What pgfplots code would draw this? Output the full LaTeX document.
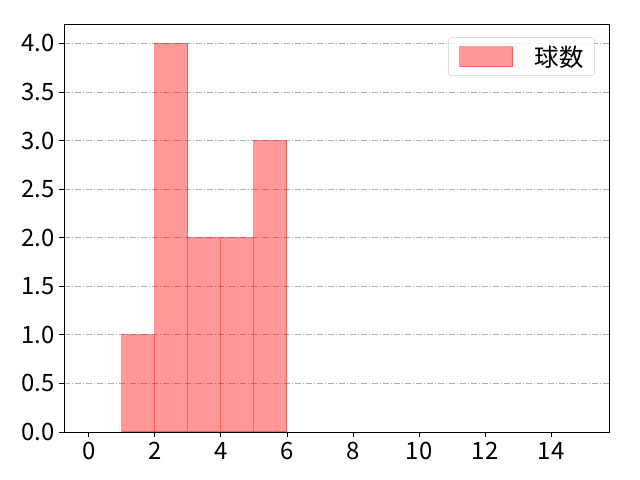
\documentclass[border=0pt]{standalone}
\usepackage{fontspec}
\setmainfont{Noto Sans CJK JP}
\usepackage{pgfplots}
\pgfplotsset{compat=1.18}
\begin{document}
\begin{tikzpicture}[x=1bp,y=1bp]
\path[use as bounding box] (0,0) rectangle (640,480);
\begin{axis}[
  at={(64bp,48bp)}, anchor=south west,
  width=545bp, height=408bp, scale only axis,
  xmin=-0.75, xmax=15.75, ymin=0, ymax=4.2,
  xtick={0,2,...,14},
  ytick={0,0.5,...,4.0},
  yticklabel style={xshift=-1bp, /pgf/number format/.cd,fixed,fixed zerofill,precision=1},
  /pgf/number format/assume math mode=true,
  tick label style={font=\fontsize{24}{28}\selectfont},
  xticklabel style={yshift=-2bp},
  tick align=outside, tick pos=left,
  major tick length=5bp,
  axis line style={line width=0.9bp},
  every tick/.style={line width=0.9bp, black},
  ymajorgrids,
  grid style={dash pattern=on 6bp off 2bp on 1bp off 2bp, color={rgb,255:red,176;green,176;blue,176}, line width=0.9bp},
  legend style={at={(0.974,0.967)}, anchor=north east, draw={rgb,255:red,204;green,204;blue,204}, rounded corners=3bp, fill=white, fill opacity=0.8, text opacity=1, font=\fontsize{24.5}{28}\selectfont, inner xsep=11bp, inner ysep=8bp, nodes={inner sep=0pt}},
  legend cell align=left,
  legend image code/.code={\draw[sharp corners, fill=red, fill opacity=0.4, draw=red, draw opacity=0.4] (0bp,-10bp) rectangle (53bp,10bp); \path[draw=none,fill=none] (53bp,0) -- (75bp,0);},
]
\addplot[ybar interval, fill=red, fill opacity=0.4, draw=red, draw opacity=0.4, line width=1bp] coordinates {(1,1) (2,4) (3,2) (4,2) (5,3) (6,3)};
\addlegendentry{球数}
\end{axis}
\end{tikzpicture}
\end{document}
